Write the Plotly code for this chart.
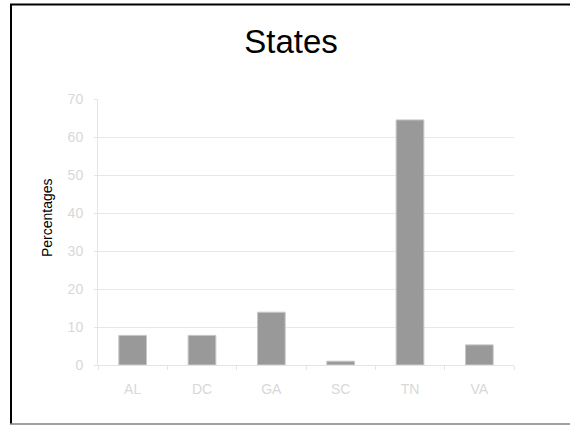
import plotly.graph_objects as go

states = ["AL", "DC", "GA", "SC", "TN", "VA"]
percentages = [7.8, 7.8, 13.9, 1.0, 64.5, 5.3]
y_ticks = [0, 10, 20, 30, 40, 50, 60, 70]

W, H = 570, 426
L, R, T, B = 98, 56, 99, 61
pw, ph = W - L - R, H - T - B

def px_x(x):
    return (x - L) / pw

def px_y(y):
    return (H - B - y) / ph

font_family = "Arial, Liberation Sans, sans-serif"

fig = go.Figure(
    go.Bar(
        x=states,
        y=percentages,
        marker=dict(color="#999999", line=dict(color="#c8c8c8", width=1)),
        width=0.4,
    )
)

fig.update_layout(
    width=W,
    height=H,
    margin=dict(l=L, r=R, t=T, b=B),
    paper_bgcolor="white",
    plot_bgcolor="white",
    showlegend=False,
    title=dict(
        text="States",
        x=291 / W,
        xanchor="center",
        y=1 - 41 / H,
        yanchor="middle",
        font=dict(family=font_family, size=33, color="black"),
    ),
    font=dict(family=font_family),
)

fig.update_yaxes(
    range=[0, 70],
    tickvals=y_ticks,
    showgrid=True,
    gridcolor="#e8e8e8",
    gridwidth=1,
    zeroline=False,
    showline=True,
    linecolor="#e4e4e4",
    ticks="outside",
    ticklen=3,
    tickcolor="#e4e4e4",
    tickfont=dict(size=14, color="#d8d8d8", family=font_family),
    ticklabelstandoff=8,
)

fig.update_xaxes(
    showgrid=False,
    showline=True,
    linecolor="#e4e4e4",
    ticks="outside",
    tickson="boundaries",
    ticklen=4,
    tickcolor="#e4e4e4",
    tickfont=dict(size=14, color="#d8d8d8", family=font_family),
    ticklabelstandoff=11,
)

fig.add_annotation(
    text="Percentages",
    xref="paper",
    yref="paper",
    x=px_x(47),
    y=px_y(218),
    xanchor="center",
    yanchor="middle",
    textangle=-90,
    showarrow=False,
    font=dict(family=font_family, size=14, color="black"),
)

# frame lines
fig.add_shape(type="line", xref="paper", yref="paper",
              x0=px_x(11), x1=px_x(11), y0=px_y(4), y1=px_y(424),
              line=dict(color="black", width=2))
fig.add_shape(type="line", xref="paper", yref="paper",
              x0=px_x(10), x1=px_x(571), y0=px_y(4.5), y1=px_y(4.5),
              line=dict(color="black", width=2))
fig.add_shape(type="line", xref="paper", yref="paper",
              x0=px_x(10), x1=px_x(571), y0=px_y(424), y1=px_y(424),
              line=dict(color="#808080", width=1.5))

fig.write_html(
    "out.html",
    config={"displayModeBar": False},
    post_script="document.body.style.margin='0';document.body.style.overflow='hidden';",
)
